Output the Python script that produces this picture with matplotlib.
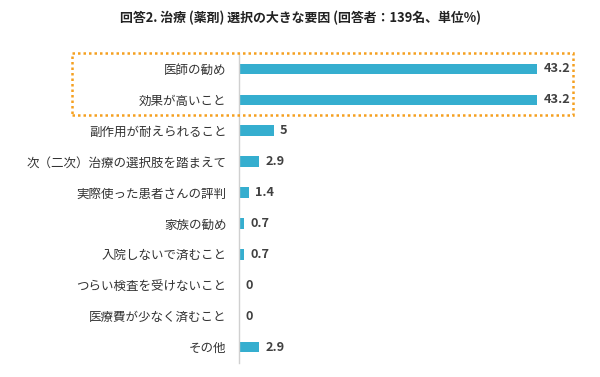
import matplotlib
matplotlib.use("Agg")
import matplotlib.pyplot as plt
from matplotlib.patches import Rectangle

plt.rcParams['font.family'] = ['Noto Sans CJK JP', 'DejaVu Sans']

categories = ["医師の勧め", "効果が高いこと", "副作用が耐えられること", "次（二次）治療の選択肢を踏まえて",
              "実際使った患者さんの評判", "家族の勧め", "入院しないで済むこと", "つらい検査を受けないこと",
              "医療費が少なく済むこと", "その他"]
values = [43.2, 43.2, 5, 2.9, 1.4, 0.7, 0.7, 0, 0, 2.9]
value_labels = ["43.2", "43.2", "5", "2.9", "1.4", "0.7", "0.7", "0", "0", "2.9"]
title = "回答2. 治療 (薬剤) 選択の大きな要因 (回答者：139名、単位%)"

fig = plt.figure(figsize=(6, 3.77), dpi=100)
ax = fig.add_axes([239/600, 14.5/377, (560-239)/600, 309/377])

y = list(range(len(categories)))
ax.barh(y, values, height=0.34, color="#35AECF")
ax.set_xlim(0, 46.5)
ax.set_ylim(len(categories) - 0.5, -0.5)
ax.set_yticks(y)
ax.set_yticklabels(categories, fontsize=9.0, color="#333333")
ax.tick_params(axis='y', length=0, pad=9)
ax.set_xticks([])
for s in ["top", "right", "bottom"]:
    ax.spines[s].set_visible(False)
ax.spines["left"].set_color("#d0d0d0")
ax.spines["left"].set_linewidth(1)

for yi, v, lab in zip(y, values, value_labels):
    ax.text(v + 0.9, yi, lab, va="center", ha="left", fontsize=9.2, fontweight="bold", color="#404040")

fig.text(0.5, 1 - 18/377, title, ha="center", va="center", fontsize=9.3, fontweight="bold", color="#222222")

fig.patches.append(Rectangle((72/600, 1 - 115/377), (573-72)/600, 62/377, transform=fig.transFigure,
                             fill=False, edgecolor="#F5A020", linestyle=(0, (1, 1.2)), linewidth=1.8))

fig.savefig("out.png", dpi=100, facecolor="white")
